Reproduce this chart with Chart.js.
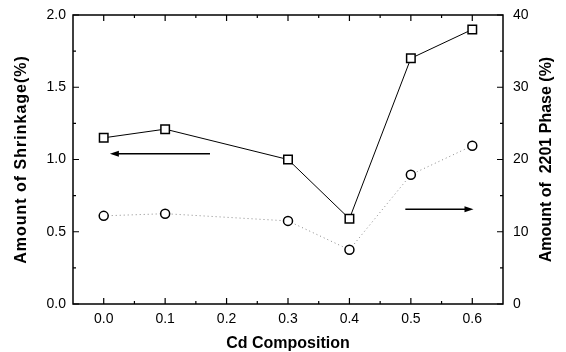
<!DOCTYPE html>
<html>
<head>
<meta charset="utf-8">
<script src="https://cdn.jsdelivr.net/npm/chart.js@4.4.0/dist/chart.umd.min.js"></script>
<style>
  html, body { margin: 0; padding: 0; background: #fff; }
  #wrap { width: 566px; height: 352px; }
</style>
</head>
<body>
<div id="wrap"><canvas id="chart" width="566" height="352"></canvas></div>
<script>
// data
const cdComposition = [0.0, 0.1, 0.3, 0.4, 0.5, 0.6];
const shrinkage = [1.15, 1.21, 1.00, 0.59, 1.70, 1.90];      // left axis, squares
const phase2201 = [12.2, 12.5, 11.5, 7.5, 17.9, 21.9];       // right axis, circles
const xTicks = [0.0, 0.1, 0.2, 0.3, 0.4, 0.5, 0.6];
const leftTicks = [0.0, 0.5, 1.0, 1.5, 2.0];
const rightTicks = [0, 10, 20, 30, 40];
const leftTitle = 'Amount of Shrinkage(%)';
const rightTitle = 'Amount of  2201 Phase (%)';

const font = 'Liberation Sans, Arial, sans-serif';

// frame, inward ticks, vertical titles and the two arrows
const framePlugin = {
  id: 'frame',
  afterDraw(chart) {
    const ctx = chart.ctx;
    const a = chart.chartArea;
    const x = chart.scales.x, y = chart.scales.y, y1 = chart.scales.y1;
    ctx.save();
    ctx.strokeStyle = '#000';
    ctx.lineWidth = 1.5;
    ctx.strokeRect(a.left, a.top, a.right - a.left, a.bottom - a.top);

    ctx.lineWidth = 1.2;
    ctx.beginPath();
    for (let v = 0; v <= 0.6001; v += 0.05) {
      const px = x.getPixelForValue(v);
      const major = Math.abs(v * 10 - Math.round(v * 10)) < 1e-6;
      const len = major ? 6 : 3;
      ctx.moveTo(px, a.bottom); ctx.lineTo(px, a.bottom - len);
      ctx.moveTo(px, a.top); ctx.lineTo(px, a.top + len);
    }
    for (let v = 0; v <= 2.0001; v += 0.25) {
      const py = y.getPixelForValue(v);
      const major = Math.abs(v * 2 - Math.round(v * 2)) < 1e-6;
      ctx.moveTo(a.left, py); ctx.lineTo(a.left + (major ? 6 : 3), py);
    }
    for (let v = 0; v <= 40; v += 5) {
      const py = y1.getPixelForValue(v);
      ctx.moveTo(a.right, py); ctx.lineTo(a.right - (v % 10 === 0 ? 6 : 3), py);
    }
    ctx.stroke();

    // vertical axis titles, both reading bottom to top
    const midY = (a.top + a.bottom) / 2;
    ctx.fillStyle = '#000';
    ctx.font = 'bold 16px ' + font;
    ctx.textAlign = 'center';
    ctx.textBaseline = 'middle';
    ctx.save();
    ctx.translate(22, midY);
    ctx.rotate(-Math.PI / 2);
    ctx.letterSpacing = '1px';
    ctx.fillText(leftTitle, 0, 0);
    ctx.restore();
    ctx.save();
    ctx.translate(547, midY);
    ctx.rotate(-Math.PI / 2);
    ctx.fillText(rightTitle, 0, 0);
    ctx.restore();

    // arrows: squares -> left axis, circles -> right axis
    const arrow = (x0, x1, py) => {
      const p0 = x.getPixelForValue(x0), p1 = x.getPixelForValue(x1);
      const dir = Math.sign(p1 - p0);
      ctx.lineWidth = 1.5;
      ctx.beginPath();
      ctx.moveTo(p0, py); ctx.lineTo(p1 - dir * 6, py);
      ctx.stroke();
      ctx.beginPath();
      ctx.moveTo(p1, py);
      ctx.lineTo(p1 - dir * 9, py - 3);
      ctx.lineTo(p1 - dir * 9, py + 3);
      ctx.closePath();
      ctx.fill();
    };
    arrow(0.173, 0.01, y.getPixelForValue(1.04));
    arrow(0.491, 0.602, y1.getPixelForValue(13.1));
    ctx.restore();
  }
};

const tickFont = { family: font, size: 14 };
const noGrid = { display: false, drawTicks: false, tickLength: 0 };
const fitY = w => s => { s.width = w; s.paddingTop = 0; s.paddingBottom = 0; };

new Chart(document.getElementById('chart').getContext('2d'), {
  type: 'line',
  data: {
    labels: cdComposition,
    datasets: [{
      label: 'Shrinkage',
      data: cdComposition.map((c, i) => ({x: c, y: shrinkage[i]})),
      yAxisID: 'y',
      borderColor: '#000',
      borderWidth: 1,
      pointStyle: 'rect',
      pointRadius: 6,
      pointBorderWidth: 1.5,
      pointBackgroundColor: '#fff',
      pointBorderColor: '#000',
      tension: 0
    }, {
      label: '2201 Phase',
      data: cdComposition.map((c, i) => ({x: c, y: phase2201[i]})),
      yAxisID: 'y1',
      borderColor: '#888',
      borderWidth: 1,
      borderDash: [1, 3],
      pointStyle: 'circle',
      pointRadius: 4.5,
      pointBorderWidth: 1.5,
      pointBackgroundColor: '#fff',
      pointBorderColor: '#000',
      tension: 0
    }]
  },
  options: {
    responsive: false,
    animation: false,
    events: [],
    layout: { padding: { top: 15, left: 0, right: 0, bottom: 0 } },
    plugins: { legend: { display: false }, tooltip: { enabled: false } },
    scales: {
      x: {
        type: 'linear',
        min: -0.05,
        max: 0.65,
        afterBuildTicks: s => { s.ticks = xTicks.map(v => ({value: v})); },
        afterFit: s => { s.height = 48; s.paddingLeft = 0; s.paddingRight = 0; },
        grid: noGrid,
        border: { display: false },
        ticks: { color: '#000', font: tickFont, padding: 7, maxRotation: 0, callback: v => v.toFixed(1) },
        title: {
          display: true,
          text: 'Cd Composition',
          color: '#000',
          font: { family: font, size: 16, weight: 'bold', lineHeight: 1 },
          padding: { top: 0, bottom: 0 }
        }
      },
      y: {
        position: 'left',
        min: 0,
        max: 2.0,
        afterBuildTicks: s => { s.ticks = leftTicks.map(v => ({value: v})); },
        afterFit: fitY(73),
        grid: noGrid,
        border: { display: false },
        ticks: { color: '#000', font: tickFont, padding: 7, callback: v => v.toFixed(1) }
      },
      y1: {
        position: 'right',
        min: 0,
        max: 40,
        afterBuildTicks: s => { s.ticks = rightTicks.map(v => ({value: v})); },
        afterFit: fitY(63),
        grid: noGrid,
        border: { display: false },
        ticks: { color: '#000', font: tickFont, padding: 10 }
      }
    }
  },
  plugins: [framePlugin]
});
</script>
</body>
</html>
